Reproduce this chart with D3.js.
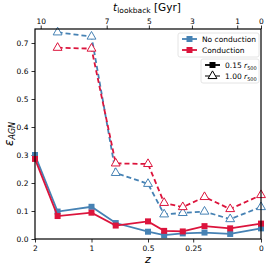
<!DOCTYPE html>
<html>
<head>
<meta charset="utf-8">
<script src="https://cdn.jsdelivr.net/npm/d3@7"></script>
<style>
  body { margin: 0; background: #fff; }
  svg text { font-family: "DejaVu Sans", sans-serif; }
</style>
</head>
<body>
<svg id="chart" width="266" height="266"></svg>
<script>
// redshifts of the snapshots
var zInner = [2, 1.5, 1, 0.75, 0.5, 0.4, 0.3, 0.2, 0.1, 0];
var zOuter = [1.5, 1, 0.75, 0.5, 0.4, 0.3, 0.2, 0.1, 0];

// eps_AGN at 0.15 r500 (solid)
var noCondInner = [0.300, 0.098, 0.115, 0.057, 0.026, 0.014, 0.020, 0.023, 0.018, 0.038];
var condInner   = [0.286, 0.082, 0.094, 0.048, 0.063, 0.029, 0.027, 0.046, 0.038, 0.055];
// eps_AGN at 1.00 r500 (dashed)
var noCondOuter = [0.738, 0.723, 0.236, 0.197, 0.088, 0.093, 0.098, 0.071, 0.114];
var condOuter   = [0.683, 0.680, 0.270, 0.268, 0.129, 0.114, 0.150, 0.107, 0.157];

var zTicks = [2, 1, 0.5, 0.25, 0];
var zTickLabels = ["2", "1", "0.5", "0.25", "0"];
var tTicks = [10, 7, 5, 3, 1, 0];
var yTicks = [0, 0.1, 0.2, 0.3, 0.4, 0.5, 0.6, 0.7];

var blue = "#4682B4", red = "#DC143C";

// lookback time (Gyr) for scale factor a, flat LCDM
var H0 = 70, Om = 0.3, tH = 977.8 / H0;
function lookback(a) {
  var n = 400, s = 0, h = (1 - a) / n;
  for (var i = 0; i < n; i++) {
    var x = a + (i + 0.5) * h;
    s += h / (x * Math.sqrt(Om / (x * x * x) + 1 - Om));
  }
  return tH * s;
}
function aOfLookback(t) {
  if (t <= 0) return 1;
  var lo = 0.05, hi = 1;
  for (var k = 0; k < 50; k++) {
    var mid = (lo + hi) / 2;
    if (lookback(mid) > t) lo = mid; else hi = mid;
  }
  return (lo + hi) / 2;
}

var svg = d3.select("#chart");
var margin = {top: 29, right: 5, bottom: 27, left: 35};
var W = 266 - margin.left - margin.right, H = 266 - margin.top - margin.bottom;
var g = svg.append("g").attr("transform", "translate(" + margin.left + "," + margin.top + ")");

// x axis is linear in scale factor a = 1/(1+z)
var x = d3.scaleLinear().domain([1 / 3, 1]).range([0, W]);
var xz = function(z) { return x(1 / (1 + z)); };
var y = d3.scaleLinear().domain([0, 0.75]).range([H, 0]);

function styleAxis(ax) {
  ax.selectAll(".domain").remove();
  ax.selectAll("line").attr("stroke", "#000").attr("stroke-width", 0.8);
  ax.selectAll("text").attr("font-size", 7.5).attr("fill", "#000");
}

var xAxis = g.append("g").attr("transform", "translate(0," + H + ")")
  .call(d3.axisBottom(x).tickValues(zTicks.map(function(z) { return 1 / (1 + z); }))
    .tickFormat(function(d, i) { return zTickLabels[i]; }).tickSizeOuter(0).tickSize(3.5).tickPadding(3));
styleAxis(xAxis);

var topAxis = g.append("g")
  .call(d3.axisTop(x).tickValues(tTicks.map(aOfLookback))
    .tickFormat(function(d, i) { return tTicks[i]; }).tickSizeOuter(0).tickSize(3.5).tickPadding(2));
styleAxis(topAxis);

var yAxis = g.append("g")
  .call(d3.axisLeft(y).tickValues(yTicks).tickFormat(d3.format(".1f")).tickSizeOuter(0).tickSize(3.5).tickPadding(3));
styleAxis(yAxis);

// series
var series = [
  {z: zOuter, v: noCondOuter, c: blue, dash: "5,3", m: "tri"},
  {z: zOuter, v: condOuter, c: red, dash: "5,3", m: "tri"},
  {z: zInner, v: noCondInner, c: blue, dash: null, m: "sq"},
  {z: zInner, v: condInner, c: red, dash: null, m: "sq"}
];

var line = d3.line().x(function(d) { return xz(d[0]); }).y(function(d) { return y(d[1]); });
var triSym = d3.symbol().type(d3.symbolTriangle).size(34);
var sqSym = d3.symbol().type(d3.symbolSquare).size(36);

series.forEach(function(s) {
  var pts = s.z.map(function(z, i) { return [z, s.v[i]]; });
  g.append("path").datum(pts).attr("d", line)
    .attr("fill", "none").attr("stroke", s.c).attr("stroke-width", 1.8)
    .attr("stroke-dasharray", s.dash);
  g.selectAll(null).data(pts).enter().append("path")
    .attr("transform", function(d) { return "translate(" + xz(d[0]) + "," + y(d[1]) + ")"; })
    .attr("d", s.m === "tri" ? triSym : sqSym)
    .attr("fill", s.m === "tri" ? "#fff" : s.c)
    .attr("stroke", s.c).attr("stroke-width", s.m === "tri" ? 1 : 0);
});

// frame
g.append("rect").attr("width", W).attr("height", H)
  .attr("fill", "none").attr("stroke", "#000").attr("stroke-width", 1.2);

// axis labels
svg.append("text").attr("x", margin.left + W / 2).attr("y", 263).attr("text-anchor", "middle")
  .attr("font-size", 11).attr("font-style", "italic").text("z");
var tl = svg.append("text").attr("x", 147).attr("y", 11).attr("text-anchor", "middle").attr("font-size", 10.5);
tl.append("tspan").attr("font-style", "italic").text("t");
tl.append("tspan").attr("font-size", 7.5).attr("dy", 2).text("lookback");
tl.append("tspan").attr("dy", -2).text(" [Gyr]");
var yl = svg.append("text").attr("transform", "translate(13," + (margin.top + H / 2) + ") rotate(-90)")
  .attr("text-anchor", "middle").attr("font-size", 12);
yl.append("tspan").attr("font-style", "italic").text("ε");
yl.append("tspan").attr("font-size", 8).attr("font-style", "italic").attr("dy", 2).text("AGN");

// legends
var leg1 = svg.append("g").attr("transform", "translate(178,33)");
leg1.append("rect").attr("width", 81).attr("height", 24).attr("rx", 2)
  .attr("fill", "#fff").attr("stroke", "#ddd").attr("stroke-width", 0.8);
[["No conduction", blue], ["Conduction", red]].forEach(function(e, i) {
  var yy = 6 + i * 11;
  leg1.append("line").attr("x1", 4).attr("x2", 19).attr("y1", yy).attr("y2", yy)
    .attr("stroke", e[1]).attr("stroke-width", 1.8);
  leg1.append("path").attr("transform", "translate(11.5," + yy + ")").attr("d", sqSym).attr("fill", e[1]);
  leg1.append("text").attr("x", 24).attr("y", yy + 3).attr("font-size", 7.5).text(e[0]);
});

var leg2 = svg.append("g").attr("transform", "translate(201,59)");
leg2.append("rect").attr("width", 58).attr("height", 24).attr("rx", 2)
  .attr("fill", "#fff").attr("stroke", "#ddd").attr("stroke-width", 0.8);
[["0.15", "sq"], ["1.00", "tri"]].forEach(function(e, i) {
  var yy = 6 + i * 11;
  leg2.append("line").attr("x1", 4).attr("x2", 19).attr("y1", yy).attr("y2", yy)
    .attr("stroke", "#000").attr("stroke-width", e[1] === "tri" ? 1 : 1.8);
  leg2.append("path").attr("transform", "translate(11.5," + yy + ")")
    .attr("d", e[1] === "tri" ? triSym : sqSym)
    .attr("fill", e[1] === "tri" ? "#fff" : "#000").attr("stroke", "#000").attr("stroke-width", e[1] === "tri" ? 1 : 0);
  var t = leg2.append("text").attr("x", 24).attr("y", yy + 3).attr("font-size", 7.5)
    .attr("font-family", "DejaVu Serif, serif");
  t.append("tspan").text(e[0] + " ");
  t.append("tspan").attr("font-style", "italic").text("r");
  t.append("tspan").attr("font-size", 5).attr("dy", 1.5).text("500");
});
</script>
</body>
</html>
